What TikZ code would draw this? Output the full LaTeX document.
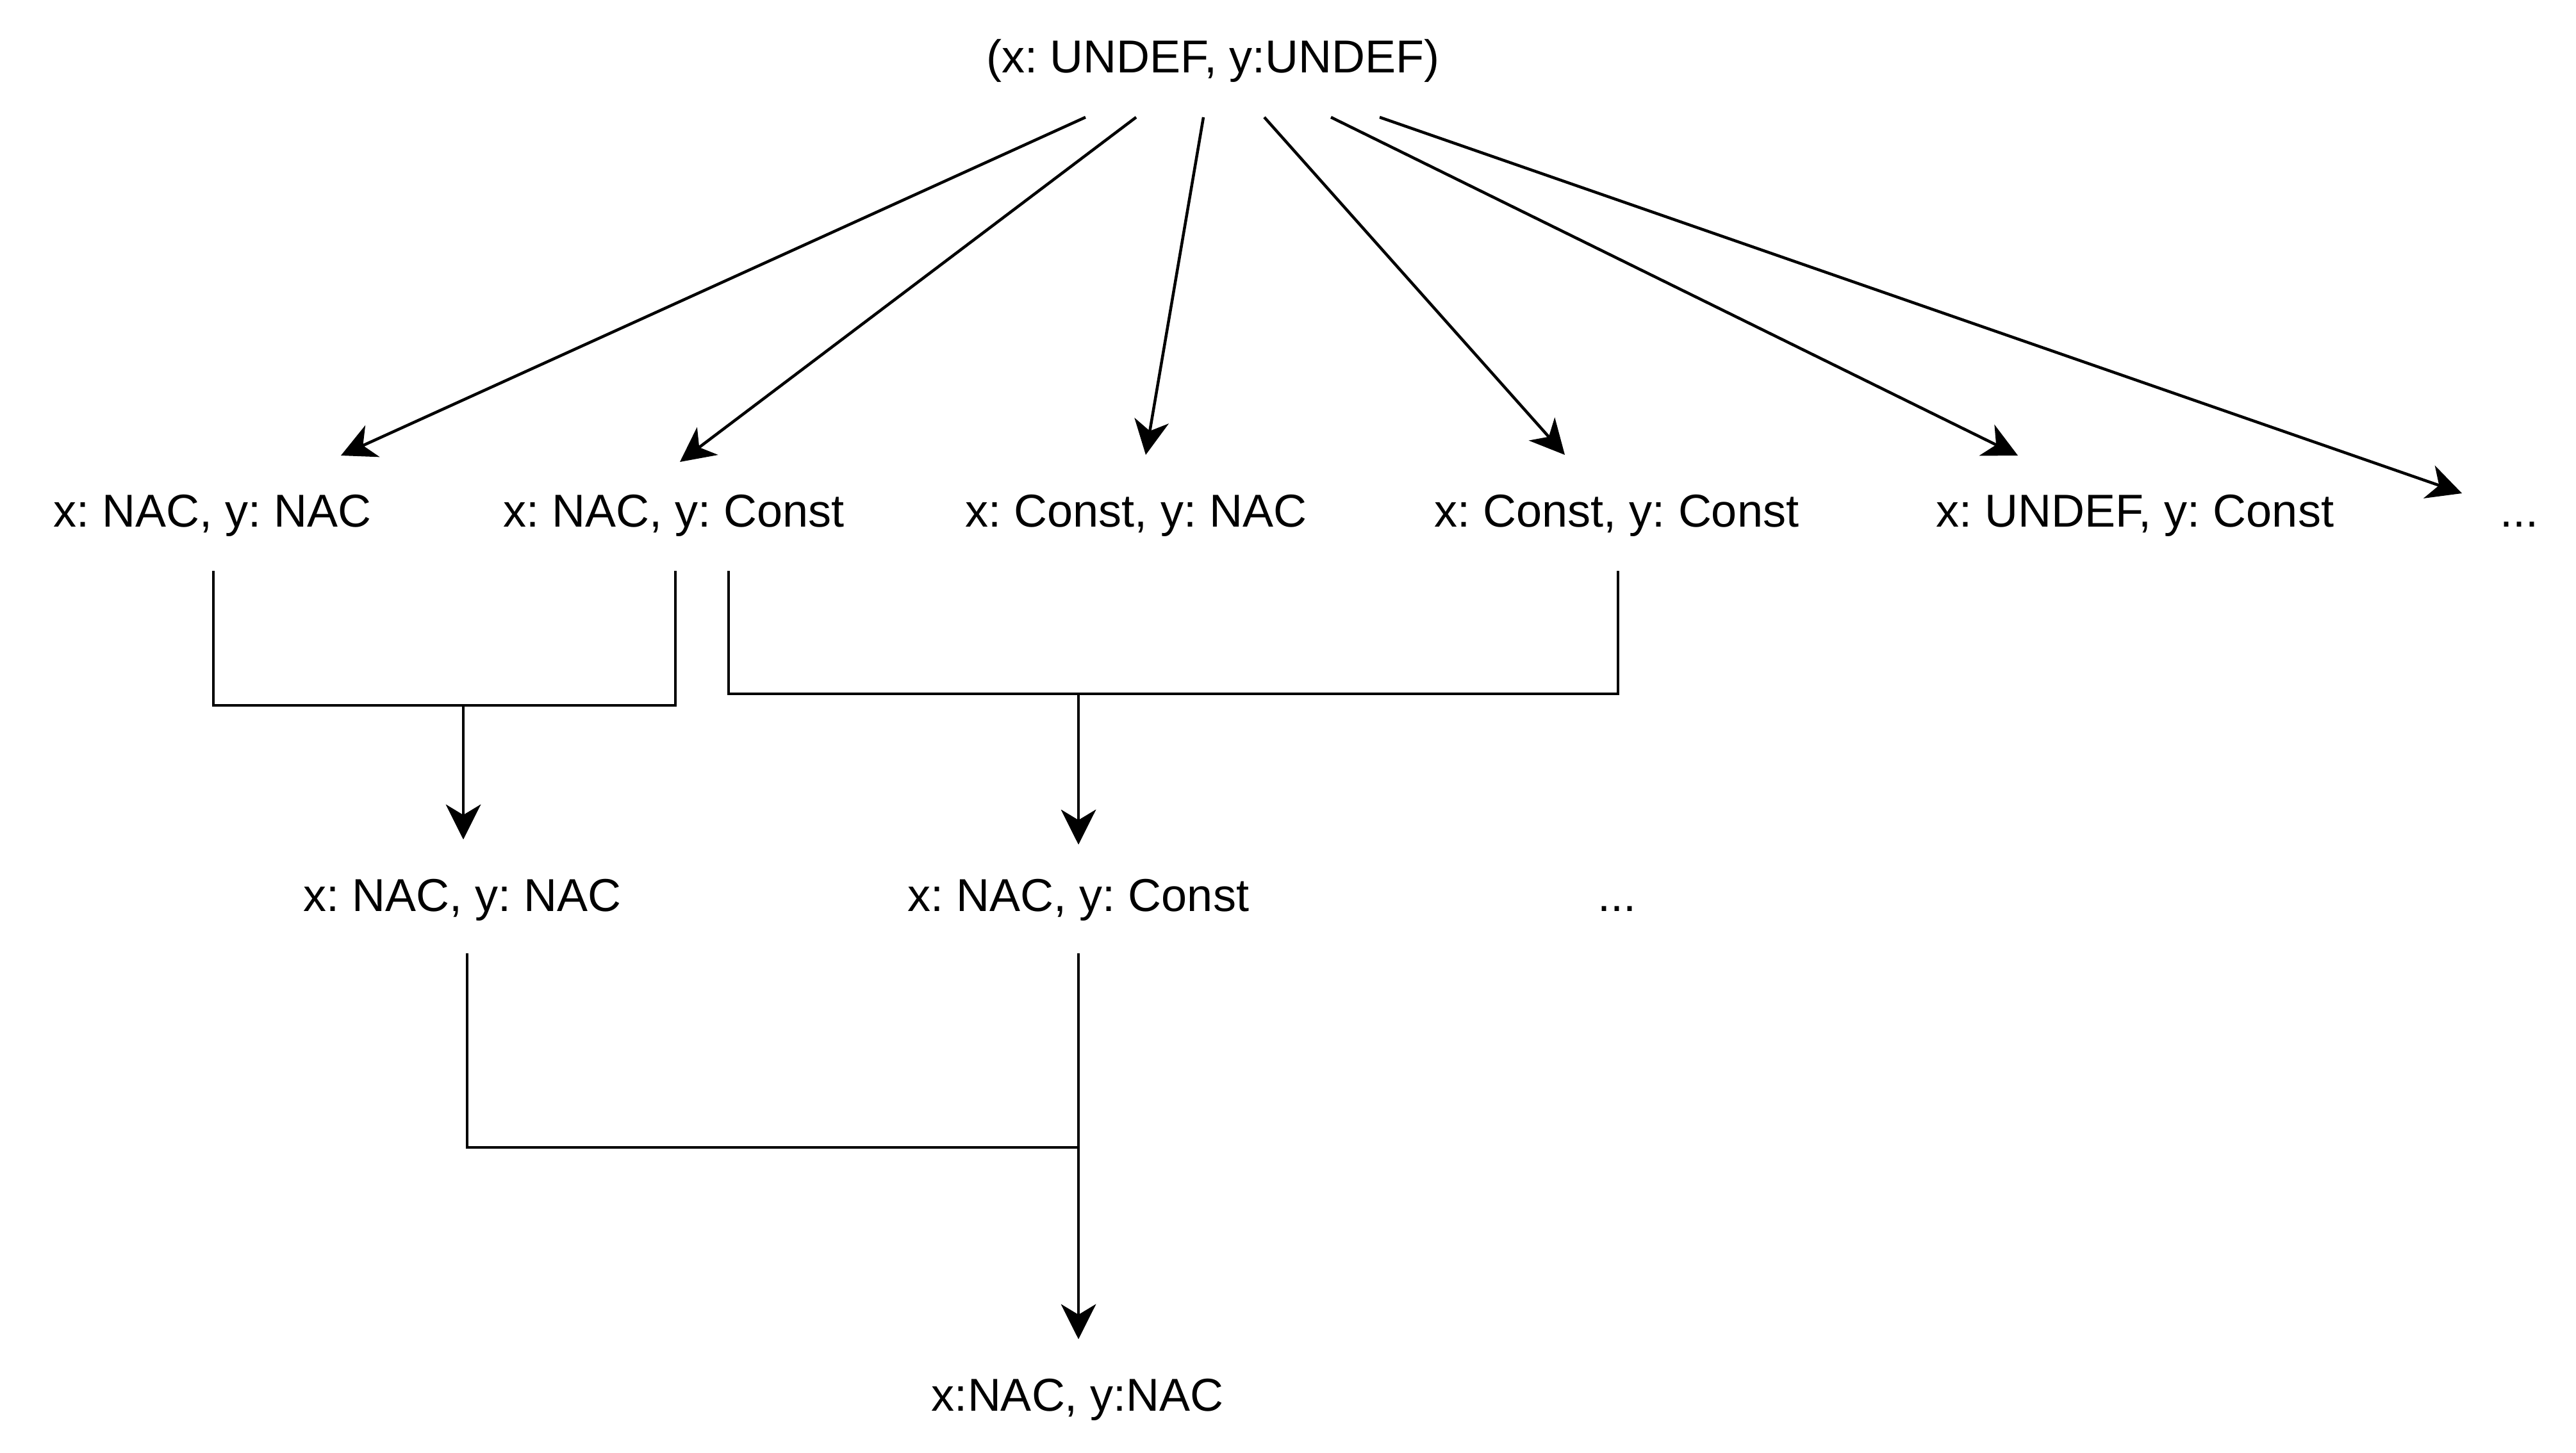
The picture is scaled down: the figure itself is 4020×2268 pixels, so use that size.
\documentclass[tikz,border=0pt]{standalone}
\usepackage{fontspec}
\setmainfont{Liberation Sans}
\frenchspacing
\usetikzlibrary{arrows.meta,calc}
\tikzset{
  lbl/.style={anchor=base, inner sep=0pt, font=\fontsize{12}{14}\selectfont\frenchspacing},
  conn/.style={line width=0.75pt, draw=black},
  arr/.style={conn, -{Stealth[length=9pt, width=9pt, inset=2.7pt]}},
}
\begin{document}
\begin{tikzpicture}[x=0.1666667pt, y=-0.1666667pt]
\useasboundingbox[fill=white] (0,0) rectangle (4020,2268);
% nodes
\node[lbl] (top) at (1893,113) {(x: UNDEF, y:UNDEF)};
\node[lbl] (n1) at (332,822) {x: NAC, y: NAC};
\node[lbl] (n2) at (1052,822) {x: NAC, y: Const};
\node[lbl] (n3) at (1773,822) {x: Const, y: NAC};
\node[lbl] (n4) at (2523,822) {x: Const, y: Const};
\node[lbl] (n5) at (3332,822) {x: UNDEF, y: Const};
\node[lbl] (n6) at (3931,822) {...};
\node[lbl] (r3a) at (722,1422) {x: NAC, y: NAC};
\node[lbl] (r3b) at (1683,1422) {x: NAC, y: Const};
\node[lbl] (r3c) at (2523,1422) {...};
\node[lbl] (r4) at (1682,2202) {x:NAC, y:NAC};
% fan-out arrows
\draw[arr] ($(top.base)+(-199,70)$) -- ($(n1.base)+(200,-111)$);
\draw[arr] ($(top.base)+(-120,70)$) -- ($(n2.base)+(9,-101)$);
\draw[arr] ($(top.base)+(-15,70)$) -- ($(n3.base)+(15,-112)$);
\draw[arr] ($(top.base)+(80,70)$) -- ($(n4.base)+(-81,-112)$);
\draw[arr] ($(top.base)+(184,70)$) -- ($(n5.base)+(-183,-111)$);
\draw[arr] ($(top.base)+(260,70)$) -- ($(n6.base)+(-89,-52)$);
% merges
\draw[arr] ($(n1.base)+(1,69)$) -- ++(0,210) -| ($(r3a.base)+(1,-112)$);
\draw[arr] ($(n2.base)+(2,69)$) -- ++(0,210) -| ($(r3a.base)+(1,-112)$);
\draw[arr] ($(n2.base)+(85,69)$) -- ++(0,192) -| ($(r3b.base)+(0,-104)$);
\draw[arr] ($(n4.base)+(2,69)$) -- ++(0,192) -| ($(r3b.base)+(0,-104)$);
\draw[arr] ($(r3a.base)+(7,66)$) -- ++(0,303) -| ($(r4.base)+(1,-112)$);
\draw[arr] ($(r3b.base)+(0,66)$) -- ($(r4.base)+(1,-112)$);
\end{tikzpicture}
\end{document}
